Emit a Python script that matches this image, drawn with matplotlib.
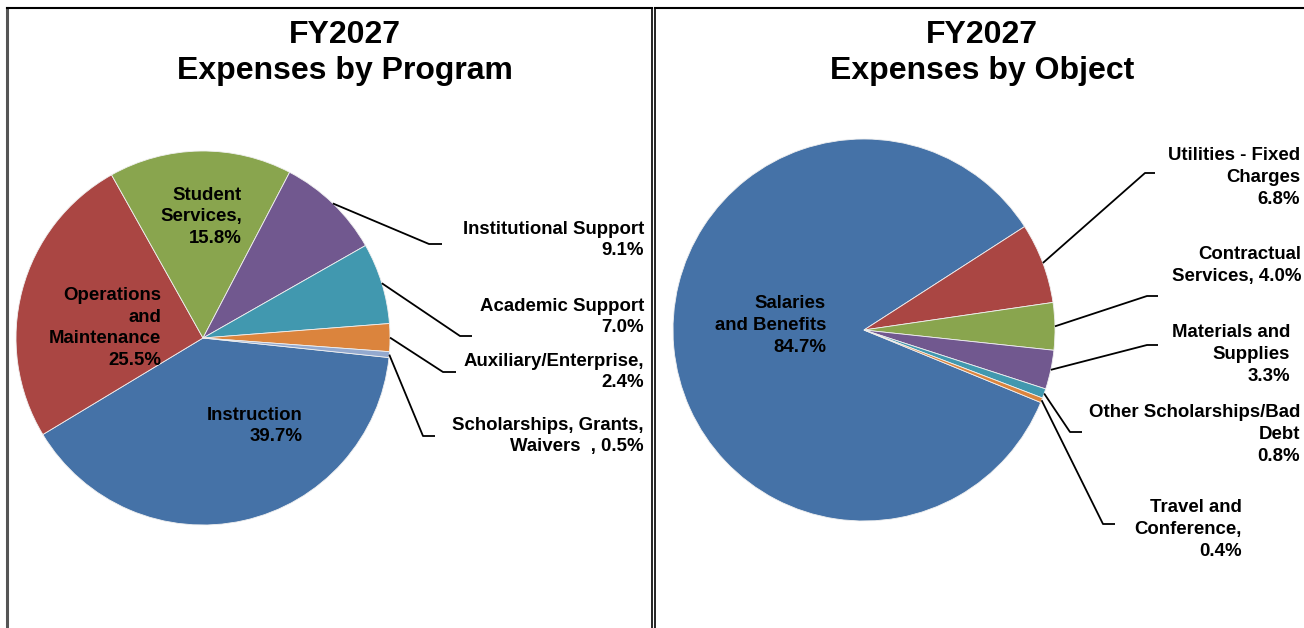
import numpy as np
import matplotlib
matplotlib.use("Agg")
import matplotlib.pyplot as plt

plt.rcParams['font.family'] = ['Liberation Sans', 'DejaVu Sans']

# data
program_labels = ["Instruction\n39.7%", "Operations\nand\nMaintenance\n25.5%",
                  "Student\nServices,\n15.8%", "Institutional Support\n9.1%",
                  "Academic Support\n7.0%", "Auxiliary/Enterprise,\n2.4%",
                  "Scholarships, Grants,\nWaivers  , 0.5%"]
program_values = [39.7, 25.5, 15.8, 9.1, 7.0, 2.4, 0.5]

object_labels = ["Salaries\nand Benefits\n84.7%", "Utilities - Fixed\nCharges\n6.8%",
                 "Contractual\nServices, 4.0%", "Materials and\nSupplies\n3.3%",
                 "Other Scholarships/Bad\nDebt\n0.8%", "Travel and\nConference,\n0.4%"]
object_values = [84.7, 6.8, 4.0, 3.3, 0.8, 0.4]

colors_program = ["#4572A7", "#AA4643", "#89A54E", "#71588F", "#4198AF", "#DB843D", "#93A9CF"]
colors_object = ["#4572A7", "#AA4643", "#89A54E", "#71588F", "#4198AF", "#DB843D"]

W, H = 1304, 628
fig = plt.figure(figsize=(W / 100, H / 100), dpi=100)
ax = fig.add_axes([0, 0, 1, 1])


def Y(y):
    # image row -> data y
    return H - y


def draw_pie(values, colors, center, radius, start, labels, label_pos, elbows):
    wedges, _ = ax.pie(values, colors=colors, startangle=start, counterclock=False,
                       center=(center[0], Y(center[1])), radius=radius,
                       wedgeprops=dict(edgecolor='#f0f0f0', linewidth=0.6), frame=True)
    for i, (w, lab) in enumerate(zip(wedges, labels)):
        tx, ty = label_pos[i]
        ax.text(tx, Y(ty), lab, ha='right', va='center', multialignment='right',
                fontsize=13.4, fontweight='bold', linespacing=1.37)
        if elbows[i] is not None:
            # leader line from the middle of the slice edge
            mid = np.deg2rad((w.theta1 + w.theta2) / 2)
            sx = center[0] + radius * np.cos(mid)
            sy = Y(center[1]) + radius * np.sin(mid)
            ex, ey, hx = elbows[i]
            ax.plot([sx, ex, hx], [sy, Y(ey), Y(ey)], color='black', lw=1.3,
                    solid_capstyle='butt')


draw_pie(program_values, colors_program, (203, 338), 187, -6, program_labels,
         [(303, 426), (161, 328), (242, 217), (644, 240), (644, 317), (644, 372), (644, 436)],
         [None, None, None, (429, 244, 442), (460, 336, 472), (443, 372, 456), (423, 436, 435)])

draw_pie(object_values, colors_object, (864, 330), 191, -22.3, object_labels,
         [(826, 325.5), (1300, 177.5), (1301, 265.5), (1290, 354.5), (1300, 434.5), (1242, 529.5)],
         [None, (1145, 173, 1155), (1147, 296, 1158), (1147, 345, 1158), (1070, 432, 1082),
          (1103, 524, 1115)])

ax.set_xlim(0, W)
ax.set_ylim(0, H)
ax.set_aspect('equal')
ax.axis('off')

# titles
ax.text(345, Y(53), "FY2027\nExpenses by Program", ha='center', va='center',
        fontsize=23, fontweight='bold', linespacing=1.22)
ax.text(982, Y(53), "FY2027\nExpenses by Object", ha='center', va='center',
        fontsize=23, fontweight='bold', linespacing=1.22)

# panel borders
ax.plot([7, 7], [Y(8), 0], color='#555555', lw=2.2)
ax.plot([7, 652], [Y(8), Y(8)], color='black', lw=1.5)
ax.plot([652, 652], [Y(8), 0], color='black', lw=1.2)
ax.plot([655, 655], [Y(8), 0], color='black', lw=1.2)
ax.plot([655, W], [Y(8), Y(8)], color='black', lw=1.5)

fig.savefig("out.png", dpi=100, facecolor='white')
